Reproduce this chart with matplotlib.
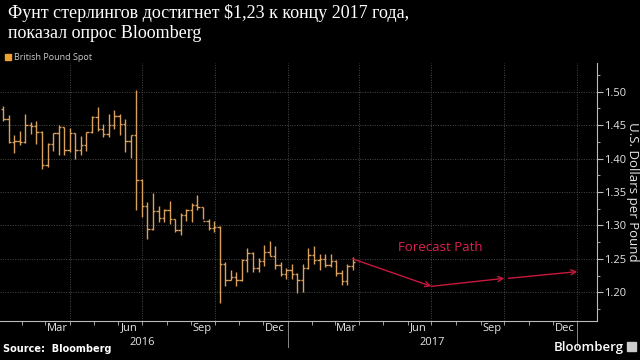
import pandas as pd
import matplotlib.pyplot as plt
import matplotlib.dates as mdates
import matplotlib.transforms as mtransforms
from matplotlib.patches import Rectangle

# weekly bars (week ending Friday): open, high, low, close
weeks = pd.date_range("2016-01-08", "2017-03-24", freq="W-FRI")
opens = [1.4740, 1.4600, 1.4255, 1.4260, 1.4245, 1.4500, 1.4495, 1.4400, 1.3900, 1.4220,
         1.4380, 1.4470, 1.4130, 1.4380, 1.4130, 1.4200, 1.4400, 1.4615, 1.4440, 1.4370,
         1.4500, 1.4640, 1.4520, 1.4260, 1.4360, 1.3680, 1.3290, 1.2950, 1.3220, 1.3110,
         1.3230, 1.3090, 1.2930, 1.3150, 1.3230, 1.3300, 1.3270, 1.3060, 1.2970, 1.2975,
         1.2430, 1.2190, 1.2230, 1.2180, 1.2480, 1.2590, 1.2370, 1.2470, 1.2600, 1.2550,
         1.2415, 1.2270, 1.2340, 1.2270, 1.2180, 1.2370, 1.2560, 1.2490, 1.2500, 1.2410,
         1.2470, 1.2290, 1.2170, 1.2400]
highs = [1.4790, 1.4650, 1.4350, 1.4410, 1.4670, 1.4550, 1.4570, 1.4410, 1.4230, 1.4380,
         1.4510, 1.4480, 1.4460, 1.4380, 1.4340, 1.4400, 1.4640, 1.4770, 1.4520, 1.4670,
         1.4730, 1.4670, 1.4600, 1.4350, 1.5020, 1.3700, 1.3350, 1.3480, 1.3290, 1.3240,
         1.3370, 1.3100, 1.3190, 1.3240, 1.3340, 1.3450, 1.3280, 1.3090, 1.3060, 1.2990,
         1.2460, 1.2340, 1.2300, 1.2500, 1.2670, 1.2610, 1.2520, 1.2710, 1.2770, 1.2700,
         1.2460, 1.2370, 1.2430, 1.2290, 1.2420, 1.2670, 1.2700, 1.2580, 1.2580, 1.2570,
         1.2490, 1.2330, 1.2420, 1.2530]
lows = [1.4560, 1.4240, 1.4080, 1.4200, 1.4240, 1.4370, 1.4220, 1.3840, 1.3880, 1.4120,
        1.4060, 1.4060, 1.4100, 1.4000, 1.4050, 1.4120, 1.4390, 1.4420, 1.4330, 1.4330,
        1.4450, 1.4350, 1.4100, 1.4010, 1.3230, 1.3120, 1.2800, 1.2930, 1.3050, 1.3050,
        1.3020, 1.2900, 1.2860, 1.3060, 1.3050, 1.3230, 1.3090, 1.2940, 1.2910, 1.1840,
        1.2090, 1.2180, 1.2090, 1.2170, 1.2300, 1.2300, 1.2300, 1.2400, 1.2540, 1.2350,
        1.2240, 1.2200, 1.2200, 1.1990, 1.2000, 1.2350, 1.2420, 1.2340, 1.2380, 1.2380,
        1.2250, 1.2110, 1.2110, 1.2330]
closes = opens[1:] + [1.2460]

# forecast path (quarter ends 2017)
fc_dates = pd.to_datetime(["2017-03-24", "2017-07-01", "2017-10-01", "2018-01-01"])
fc_values = [1.2500, 1.2090, 1.2210, 1.2310]

BG = "black"
BAR = "#d9a15c"
RED = "#c8183c"
GRID = "#4a4a4a"
TXT = "#e6e6e6"

fig = plt.figure(figsize=(6.4, 3.6), dpi=100, facecolor=BG)
ax = fig.add_axes([0.0, 0.108, 0.933, 0.717], facecolor=BG)

# weekly bars
tick = pd.Timedelta(days=3)
ax.vlines(weeks, lows, highs, color=BAR, lw=1.0)
ax.hlines(opens, weeks - tick, weeks, color=BAR, lw=1.0)
ax.hlines(closes, weeks, weeks + tick, color=BAR, lw=1.0)

# forecast arrows
segs = [(0, 1, 0), (1, 2, 0), (2, 3, 5)]
for i, j, gap in segs:
    x0 = fc_dates[i] + pd.Timedelta(days=gap)
    ax.annotate("", xy=(mdates.date2num(fc_dates[j]), fc_values[j]),
                xytext=(mdates.date2num(x0), fc_values[i]),
                arrowprops=dict(arrowstyle="->", color=RED, lw=1.0,
                                shrinkA=0, shrinkB=0, mutation_scale=9))
ax.text(mdates.date2num(pd.Timestamp("2017-05-20")), 1.262, "Forecast Path",
        color="#e0234f", fontsize=9.5, family="Open Sans")

ax.set_xlim(mdates.date2num(pd.Timestamp("2016-01-04")),
            mdates.date2num(pd.Timestamp("2018-01-26")))
ax.set_ylim(1.157, 1.543)

# grid
for d in pd.to_datetime(["2016-04-01", "2016-07-01", "2016-10-01", "2017-01-01",
                         "2017-04-01", "2017-07-01", "2017-10-01", "2018-01-01"]):
    ax.axvline(mdates.date2num(d), color=GRID, lw=0.7, ls=(0, (1, 1.5)), zorder=0)
for v in [1.20, 1.25, 1.30, 1.35, 1.40, 1.45, 1.50]:
    ax.axhline(v, color=GRID, lw=0.7, ls=(0, (1, 1.5)), zorder=0)

# y axis on right
ax.yaxis.tick_right()
ax.yaxis.set_label_position("right")
ax.set_yticks([1.20, 1.25, 1.30, 1.35, 1.40, 1.45, 1.50])
ax.set_yticklabels(["1.20", "1.25", "1.30", "1.35", "1.40", "1.45", "1.50"])
ax.set_yticks([1.175, 1.225, 1.275, 1.325, 1.375, 1.425, 1.475, 1.525], minor=True)
ax.tick_params(axis="y", which="major", colors="#bbbbbb", labelcolor=TXT,
               labelsize=8, length=4, width=0.8, pad=1)
ax.tick_params(axis="y", which="minor", colors="#bbbbbb", length=2, width=0.6)
ax.set_ylabel("U.S. Dollars per Pound", color=TXT, fontsize=9.5, rotation=270,
              labelpad=9, family="Open Sans")
for lab in ax.get_yticklabels():
    lab.set_family("Open Sans")

# x axis: month labels centred in month, minor ticks at month starts
lab_dates = pd.to_datetime(["2016-03-16", "2016-06-15", "2016-09-15", "2016-12-16",
                            "2017-03-16", "2017-06-15", "2017-09-15", "2017-12-16"])
lab_text = ["Mar", "Jun", "Sep", "Dec", "Mar", "Jun", "Sep", "Dec"]
ax.set_xticks(mdates.date2num(lab_dates))
ax.set_xticklabels(lab_text)
ax.set_xticks(mdates.date2num(pd.date_range("2016-02-01", "2018-01-01", freq="MS")), minor=True)
ax.tick_params(axis="x", which="major", length=0, labelcolor=TXT, labelsize=8, pad=1)
ax.tick_params(axis="x", which="minor", colors="#bbbbbb", length=3, width=0.6)
for lab in ax.get_xticklabels():
    lab.set_family("Open Sans")

trans = mtransforms.blended_transform_factory(ax.transData, ax.transAxes)
for yr, mid in [("2016", "2016-07-01"), ("2017", "2017-07-02")]:
    ax.text(mdates.date2num(pd.Timestamp(mid)), -0.06, yr, transform=trans,
            ha="center", va="top", color=TXT, fontsize=8, family="Open Sans")
for d in ["2017-01-01", "2018-01-01"]:
    ax.plot([mdates.date2num(pd.Timestamp(d))] * 2, [0, -0.1], transform=trans,
            color="#888888", lw=0.7, clip_on=False)

for side in ["top", "left"]:
    ax.spines[side].set_visible(False)
for side in ["bottom", "right"]:
    ax.spines[side].set_color("#bbbbbb")
    ax.spines[side].set_linewidth(0.8)

# title, legend, footer
fig.text(0.012, 0.99, "Фунт стерлингов достигнет $1,23 к концу 2017 года,\nпоказал опрос Bloomberg",
         color="white", fontsize=13, family="Liberation Serif", va="top", linespacing=1.3)
fig.patches.append(Rectangle((0.008, 0.832), 0.009, 0.017, transform=fig.transFigure,
                             color="#f0a030"))
fig.text(0.022, 0.840, "British Pound Spot", color="#cccccc", fontsize=6.5,
         family="Open Sans", va="center")
fig.text(0.005, 0.018, "Source:  Bloomberg", color="white", fontsize=7,
         fontweight="bold", family="DejaVu Sans", va="bottom")
fig.text(0.975, 0.018, "Bloomberg", color="white", fontsize=9.5,
         family="Open Sans", fontweight="semibold", ha="right", va="bottom")
fig.patches.append(Rectangle((0.980, 0.024), 0.013, 0.025, transform=fig.transFigure,
                             color="#cccccc"))

fig.savefig("out.png", dpi=100, facecolor=BG)
plt.close(fig)
